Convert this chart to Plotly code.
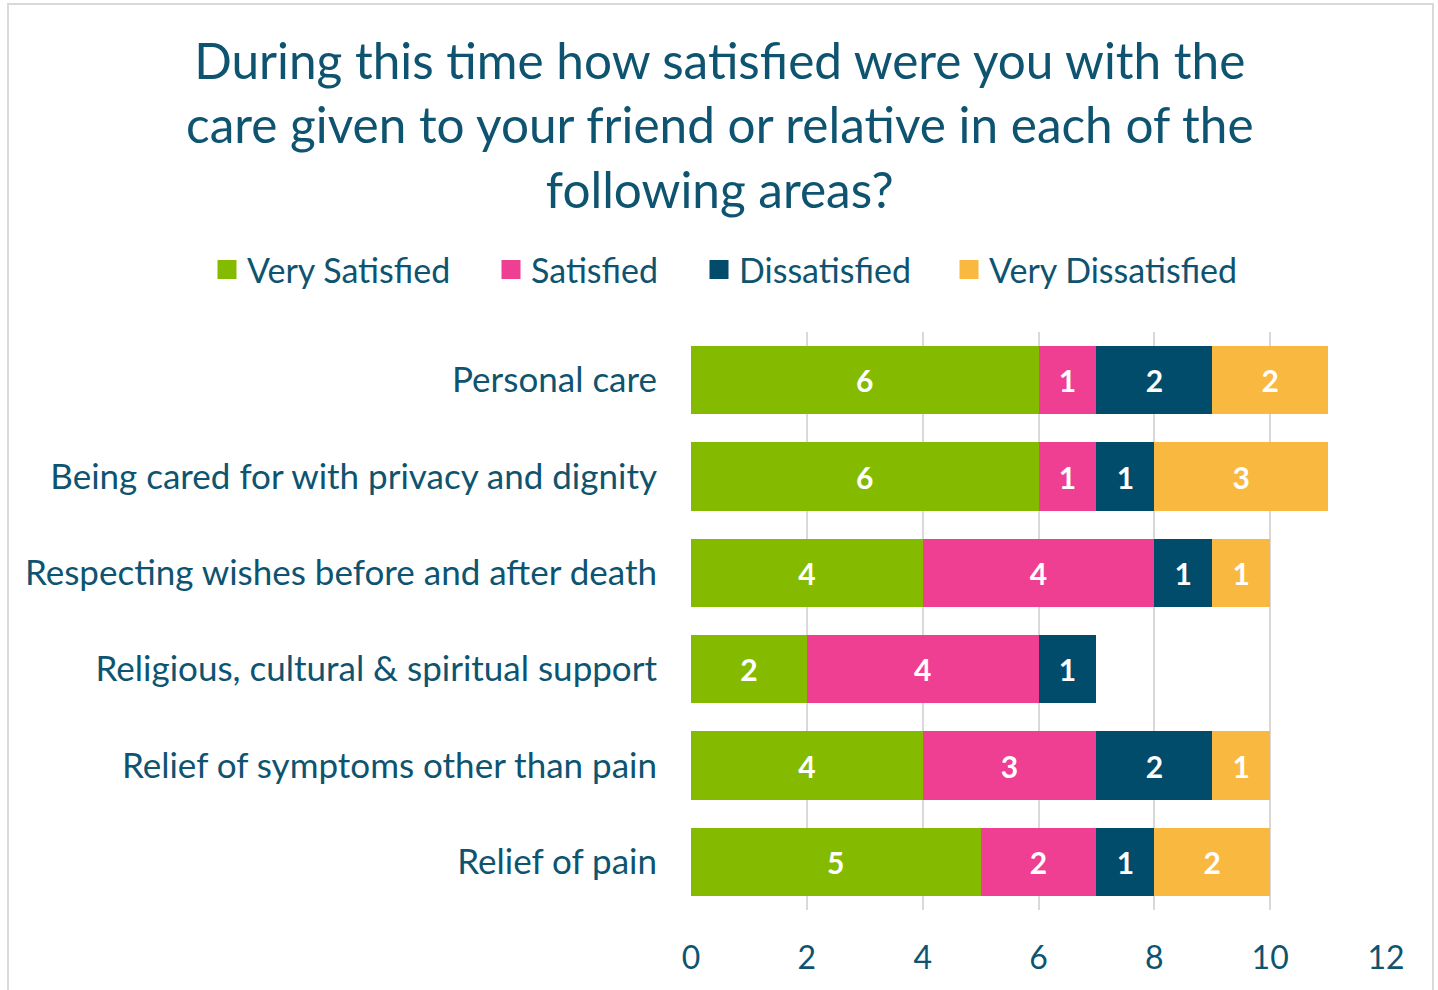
import plotly.graph_objects as go

categories = ["Personal care", "Being cared for with privacy and dignity",
              "Respecting wishes before and after death",
              "Religious, cultural & spiritual support",
              "Relief of symptoms other than pain", "Relief of pain"]
very_satisfied = [6, 6, 4, 2, 4, 5]
satisfied = [1, 1, 4, 4, 3, 2]
dissatisfied = [2, 1, 1, 1, 2, 1]
very_dissatisfied = [2, 3, 1, None, 1, 2]
x_ticks = [0, 2, 4, 6, 8, 10, 12]

series = [("Very Satisfied", very_satisfied, "#84BB00"),
          ("Satisfied", satisfied, "#EE3F93"),
          ("Dissatisfied", dissatisfied, "#004C6A"),
          ("Very Dissatisfied", very_dissatisfied, "#F9B840")]

FONT = "Lato"
TXT = "#0E5470"

# plot area in page pixels
L, R, T, B = 691, 1386, 332, 910
W, H = 1438, 990
PW, PH = R - L, B - T


def px(x):
    return (x - L) / PW


def py(y):
    return (B - y) / PH


legend_ids = ["legend", "legend2", "legend3", "legend4"]
legend_left = [207, 491, 699, 949]

fig = go.Figure()
for name, vals, col in series:
    fig.add_trace(go.Bar(
        y=categories, x=vals, name=name, orientation="h",
        marker=dict(color=col, line=dict(width=0)),
        text=vals, texttemplate="<b>%{x}</b>", textposition="inside",
        insidetextanchor="middle", constraintext="none",
        textfont=dict(color="white", size=30, family=FONT),
        width=0.71, showlegend=False, legendgroup=name,
    ))
# legend entries (square swatches), one legend box per entry
for (name, vals, col), lid in zip(series, legend_ids):
    fig.add_trace(go.Scatter(
        x=[None], y=[None], mode="markers", name=name, legendgroup=name,
        marker=dict(symbol="square", size=20, color=col,
                    line=dict(color=col, width=3)),
        showlegend=True, legend=lid,
    ))

legend_style = dict(
    orientation="h", xref="paper", yref="paper", xanchor="left",
    y=py(270), yanchor="middle",
    font=dict(size=34, color=TXT, family=FONT), itemwidth=30,
    bgcolor="rgba(0,0,0,0)",
)

fig.update_layout(
    barmode="stack",
    width=W, height=H,
    paper_bgcolor="white", plot_bgcolor="white",
    margin=dict(l=L, r=W - R, t=T, b=H - B, autoexpand=False),
    font=dict(family=FONT, color=TXT),
    showlegend=True,
    xaxis=dict(
        range=[0, 12], tickvals=x_ticks, showgrid=True,
        gridcolor="#D9D9D9", gridwidth=2, zeroline=False,
        tickfont=dict(size=32, color=TXT, family=FONT),
        ticks="", ticklabelstandoff=26, fixedrange=True,
    ),
    yaxis=dict(
        autorange="reversed", showgrid=False, zeroline=False,
        tickfont=dict(size=35, color=TXT, family=FONT),
        ticks="", ticklabelstandoff=33, fixedrange=True,
    ),
    bargap=0.29,
)
for lid, lx in zip(legend_ids, legend_left):
    fig.update_layout({lid: dict(legend_style, x=px(lx))})

fig.add_annotation(
    text="During this time how satisfied were you with the<br>care given to your friend or relative in each of the<br>following areas?",
    xref="paper", yref="paper", x=px(720), y=py(125),
    xanchor="center", yanchor="middle", showarrow=False,
    font=dict(size=49.5, color=TXT, family=FONT),
)

# outer chart border
fig.add_shape(type="rect", xref="paper", yref="paper",
              x0=px(8), x1=px(1433), y0=py(1010), y1=py(4),
              line=dict(color="#D9D9D9", width=2), fillcolor="rgba(0,0,0,0)",
              layer="below")

fig.write_html("out.html", config={"displayModeBar": False},
               post_script="document.body.style.margin='0';")
